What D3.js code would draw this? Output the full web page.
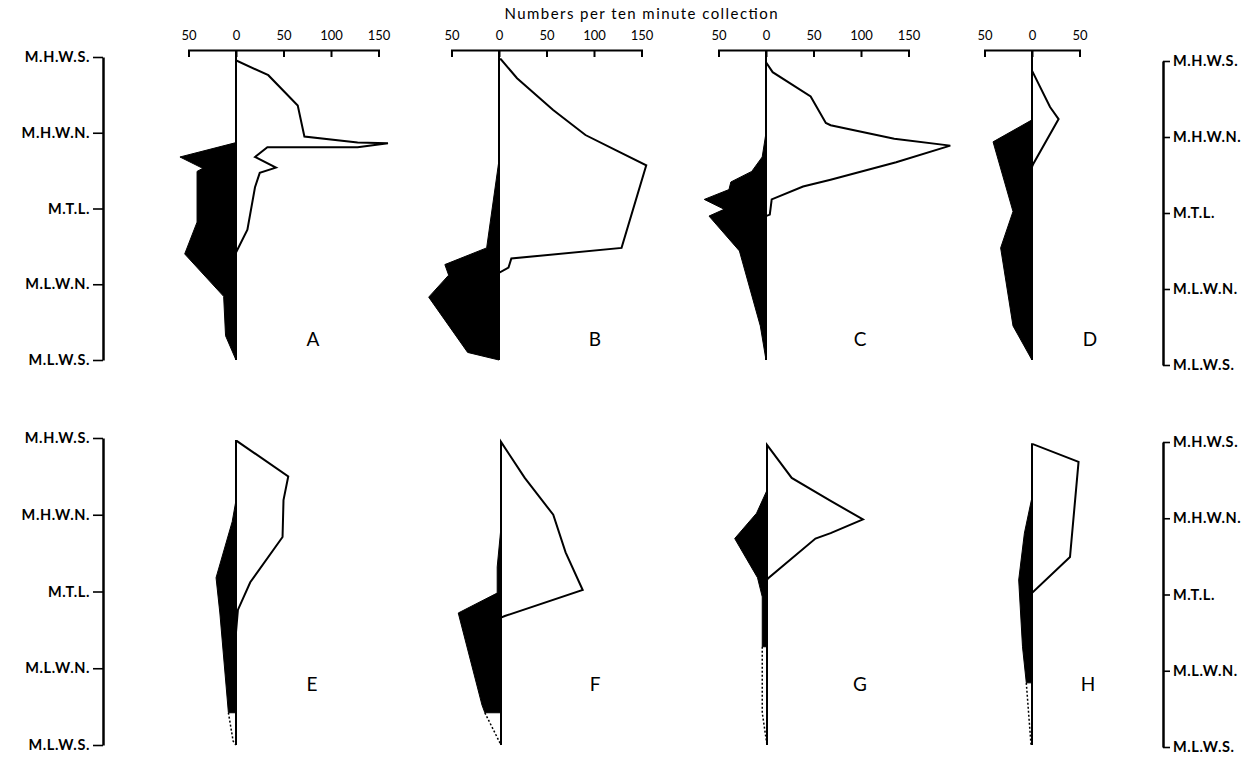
<!DOCTYPE html>
<html>
<head>
<meta charset="utf-8">
<script src="https://cdn.jsdelivr.net/npm/d3@7"></script>
<style>
  body { margin: 0; background: #fff; }
  text { font-family: 'Lato', 'DejaVu Sans', sans-serif; fill: #000; }
  .tide text { font-weight: 700; font-size: 14.5px; letter-spacing: 0.6px; }
  .count text { font-size: 13px; }
</style>
</head>
<body>
<svg id="chart" width="1256" height="757"></svg>
<script>
// tidal levels, top to bottom (index 0..4)
const levels = ['M.H.W.S.', 'M.H.W.N.', 'M.T.L.', 'M.L.W.N.', 'M.L.W.S.'];
const ticksWide = [-50, 0, 50, 100, 150];
const ticksNarrow = [-50, 0, 50];
const title = 'Numbers per ten minute collection';

// profiles as [level, number]; positive = open outline, negative = solid black
const posA = [[0.05, 0], [0.05, 1], [0.24, 34], [0.64, 65], [1.05, 72], [1.13, 128], [1.14, 160], [1.19, 128], [1.19, 33], [1.32, 20], [1.46, 42], [1.53, 25], [1.72, 20], [2.28, 12], [2.58, 0]];
const negA = [[1.13, 0], [1.32, -59], [1.47, -35], [1.51, -41], [2.18, -41], [2.6, -54], [3.16, -13], [3.68, -11], [4, 0]];

const posB = [[0.03, 0], [0.03, 2], [0.28, 19], [0.7, 57], [1.03, 91], [1.25, 126], [1.43, 155], [2.52, 129], [2.66, 13], [2.78, 10], [2.85, 0]];
const negB = [[1.36, 0], [2.52, -13], [2.74, -57], [2.88, -53], [3.17, -74], [3.9, -33], [4, 0]];

const posC = [[0.07, 0], [0.2, 7], [0.52, 47], [0.87, 63], [0.9, 68], [1.08, 135], [1.17, 194], [1.39, 137], [1.62, 68], [1.71, 39], [1.88, 6], [2.08, 4], [2.1, 0]];
const negC = [[1.0, 0], [1.32, -4], [1.51, -15], [1.65, -37], [1.75, -39], [1.88, -65], [2.01, -44], [2.1, -60], [2.56, -28], [3.55, -6], [4, 0]];

const posD = [[0.18, 0], [0.66, 19], [0.82, 28], [1.42, 1], [1.45, 0]];
const negD = [[0.83, 0], [1.12, -41], [2.04, -20], [2.52, -33], [3.55, -20], [4, 0]];

const posE = [[0.04, 0], [0.04, 1], [0.5, 55], [0.81, 50], [1.29, 49], [1.88, 15], [2.24, 2], [2.53, 0]];
const negE = [[0.81, 0], [1.09, -4], [1.82, -21], [2.28, -17], [3.58, -8], [3.58, 0]];
const dotE = [[3.58, -8], [3.95, -3], [4, 0]];

const posF = [[0.05, 0], [0.52, 25], [1.0, 55], [1.49, 68], [1.98, 86], [2.32, 4], [2.34, 0]];
const negF = [[1.16, 0], [1.68, -4], [2.02, -4], [2.28, -45], [3.48, -20], [3.58, -17], [3.58, 0]];
const dotF = [[3.58, -17], [4, 0]];

const posG = [[0.09, 0], [0.52, 26], [0.82, 67], [1.06, 101], [1.24, 67], [1.31, 51], [1.83, 1], [1.85, 0]];
const negG = [[0.68, 0], [0.98, -11], [1.31, -34], [1.82, -10], [2.07, -5], [2.72, -5], [2.72, 0]];
const dotG = [[2.72, -5], [3.58, -5], [4, 0]];

const posH = [[0.08, 0], [0.08, 1], [0.31, 49], [1.55, 40], [2.02, 0]];
const negH = [[0.77, 0], [1.24, -8], [1.85, -14], [2.72, -10], [3.19, -6], [3.19, 0]];
const dotH = [[3.19, -6], [4, -1]];

const panels = [
  { name: 'A', row: 0, zero: 236, letterX: 313, ticks: ticksWide, pos: posA, neg: negA },
  { name: 'B', row: 0, zero: 499, letterX: 595, ticks: ticksWide, pos: posB, neg: negB },
  { name: 'C', row: 0, zero: 766, letterX: 860, ticks: ticksWide, pos: posC, neg: negC },
  { name: 'D', row: 0, zero: 1032, letterX: 1090, ticks: ticksNarrow, pos: posD, neg: negD },
  { name: 'E', row: 1, zero: 236, letterX: 312, pos: posE, neg: negE, dots: dotE },
  { name: 'F', row: 1, zero: 501, letterX: 595, pos: posF, neg: negF, dots: dotF },
  { name: 'G', row: 1, zero: 767, letterX: 860, pos: posG, neg: negG, dots: dotG },
  { name: 'H', row: 1, zero: 1032, letterX: 1088, pos: posH, neg: negH, dots: dotH },
];

const rows = [
  { left: [57, 360], right: [61, 365], axisY: 50, letterY: 346 },
  { left: [438, 745], right: [442, 747], letterY: 691 },
];

const pxPerUnit = 0.95;
const svg = d3.select('#chart');

// title
svg.append('text')
  .attr('x', 641).attr('y', 19)
  .attr('text-anchor', 'middle')
  .attr('font-size', 15)
  .attr('textLength', 273)
  .attr('lengthAdjust', 'spacing')
  .text(title);

rows.forEach((row) => {
  row.y = d3.scaleLinear().domain([0, 4]).range(row.left);
  const yRight = d3.scaleLinear().domain([0, 4]).range(row.right);

  const leftAxis = d3.axisLeft(row.y)
    .tickValues(d3.range(levels.length))
    .tickFormat((i) => levels[i])
    .tickSize(10).tickSizeOuter(0).tickPadding(3);

  const rightAxis = d3.axisRight(yRight)
    .tickValues(d3.range(levels.length))
    .tickFormat((i) => levels[i])
    .tickSize(7).tickSizeOuter(0).tickPadding(3);

  svg.append('g').attr('class', 'tide').attr('transform', 'translate(103,0)').call(leftAxis);
  svg.append('g').attr('class', 'tide').attr('transform', 'translate(1163,0)').call(rightAxis);
});

svg.selectAll('.tide .domain').attr('stroke-width', 2.5);
svg.selectAll('.tide .tick line').attr('stroke-width', 1.6);

panels.forEach((p) => {
  const row = rows[p.row];
  const y = row.y;
  const x = d3.scaleLinear().domain([0, 50]).range([p.zero, p.zero + 50 * pxPerUnit]);
  const g = svg.append('g').attr('class', 'panel');

  if (p.ticks) {
    const xa = x.copy().domain(d3.extent(p.ticks)).range([x(d3.min(p.ticks)), x(d3.max(p.ticks))]);
    const axis = d3.axisTop(xa)
      .tickValues(p.ticks)
      .tickFormat((d) => Math.abs(d))
      .tickSize(-7).tickSizeOuter(-7).tickPadding(10);
    const ag = g.append('g').attr('class', 'count')
      .attr('transform', `translate(0,${row.axisY})`)
      .call(axis);
    ag.select('.domain').attr('stroke-width', 2);
    ag.selectAll('.tick line').attr('stroke-width', 2);
  }

  const area = d3.area()
    .y((d) => y(d[0]))
    .x0(x(0))
    .x1((d) => x(d[1]));

  g.append('path')
    .datum(p.neg)
    .attr('d', area)
    .attr('fill', '#000')
    .attr('stroke', '#000')
    .attr('stroke-width', 1);

  g.append('path')
    .datum(p.pos)
    .attr('d', area)
    .attr('fill', '#fff')
    .attr('stroke', '#000')
    .attr('stroke-width', 2)
    .attr('stroke-linejoin', 'miter');

  if (p.dots) {
    g.append('path')
      .datum(p.dots)
      .attr('d', d3.line().x((d) => x(d[1])).y((d) => y(d[0])))
      .attr('fill', 'none')
      .attr('stroke', '#000')
      .attr('stroke-width', 1.5)
      .attr('stroke-dasharray', '2,2');
  }

  // zero line
  const top = p.ticks ? row.axisY : y(p.pos[0][0]);
  g.append('line')
    .attr('x1', x(0)).attr('x2', x(0))
    .attr('y1', top).attr('y2', y(4))
    .attr('stroke', '#000')
    .attr('stroke-width', 2);

  g.append('text')
    .attr('x', p.letterX).attr('y', row.letterY)
    .attr('text-anchor', 'middle')
    .attr('font-size', 19)
    .text(p.name);
});
</script>
</body>
</html>
